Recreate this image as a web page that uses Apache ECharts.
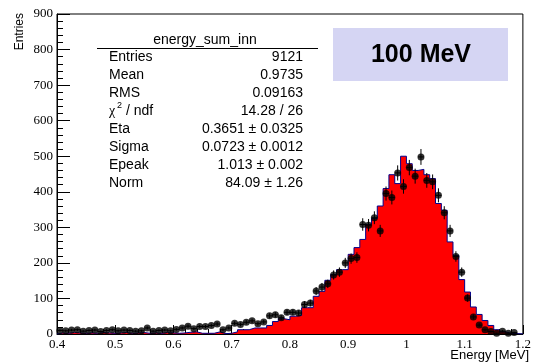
<!DOCTYPE html>
<html>
<head>
<meta charset="utf-8">
<script src="https://cdn.jsdelivr.net/npm/echarts@6/dist/echarts.min.js"></script>
<style>
  html, body { margin: 0; padding: 0; background: #fff; }
  #chart { width: 534px; height: 363px; }
</style>
</head>
<body>
<div id="chart"></div>
<script>
// Binning of the energy histogram: 80 bins of 0.01 MeV from 0.4 to 1.2
const binLow = 0.4;
const binWidth = 0.01;

// Reference (simulated) spectrum, drawn as red filled histogram
const simCounts = [
  3, 2, 4, 3, 2, 3, 2, 4, 3, 2, 3, 4, 2, 3, 4, 2, 3, 2, 4, 3,
  2, 3, 5, 6, 2, 2, 2, 6, 1, 2, 6, 12, 12, 17, 17, 17, 24, 35, 43, 40,
  50, 52, 74, 74, 106, 120, 151, 167, 181, 181, 224, 243, 266, 308,
  325, 360, 409, 448, 423, 500, 479, 460, 463, 448, 437, 367, 348, 259,
  221, 153, 118, 76, 55, 38, 24, 12, 6, 2, 1, 0
];

// Measured counts, drawn as points with Poisson error bars
const dataCounts = [
  10, 9, 11, 12, 8, 10, 11, 7, 10, 12, 9, 11, 10, 8, 9, 17, 8, 10, 11, 9,
  13, 17, 22, 15, 21, 21, 24, 28, 12, 17, 30, 27, 33, 37, 29, 34, 51, 54, 46, 61,
  61, 59, 83, 87, 121, 132, 141, 166, 174, 200, 212, 215, 308, 306,
  327, 290, 395, 384, 453, 415, 468, 444, 498, 432, 428, 390, 341, 290,
  218, 174, 101, 48, 25, 12, 7, 2, 8, 2, 4, 0
];

// Statistics box
const statsTitle = 'energy_sum_inn';
const statsNames = ['Entries', 'Mean', 'RMS', 'χ2 / ndf', 'Eta', 'Sigma', 'Epeak', 'Norm'];
const statsValues = ['9121', '0.9735', '0.09163', '14.28 / 26',
  '0.3651 ± 0.0325', '0.0723 ± 0.0012', '1.013 ± 0.002', '84.09 ± 1.26'];

const beamLabel = '100 MeV';
const xTitle = 'Energy [MeV]';
const yTitle = 'Entries';

// Histogram outline: each bin contributes its two edges at the bin height
const histLine = [[binLow, 0]];
simCounts.forEach((v, i) => {
  const lo = binLow + i * binWidth;
  histLine.push([lo, v], [lo + binWidth, v]);
});
histLine.push([binLow + simCounts.length * binWidth, 0]);

// Data points (empty bins are not drawn)
const points = [];
dataCounts.forEach((v, i) => {
  if (v > 0) points.push([binLow + (i + 0.5) * binWidth, v, Math.sqrt(v)]);
});

const chart = echarts.init(document.getElementById('chart'), null, { renderer: 'canvas' });

const sans = 'Liberation Sans, Arial, Helvetica, sans-serif';
const serif = 'Liberation Serif, Times New Roman, serif';

// Statistics box text elements
const statsGraphics = [];
statsGraphics.push({
  type: 'text', x: 205, y: 40,
  style: { text: statsTitle, font: '14px ' + sans, fill: '#000', align: 'center', verticalAlign: 'middle' }
});
statsGraphics.push({
  type: 'line', shape: { x1: 97, y1: 48.5, x2: 318, y2: 48.5 },
  style: { stroke: '#000', lineWidth: 1 }
});
statsNames.forEach((name, i) => {
  const y = 57 + i * 18;
  if (name.indexOf('χ2') === 0) {
    statsGraphics.push({ type: 'text', x: 109, y: y,
      style: { text: 'χ', font: '14px ' + serif, fill: '#000', align: 'left', verticalAlign: 'middle' } });
    statsGraphics.push({ type: 'text', x: 117, y: y - 5,
      style: { text: '2', font: '9px ' + sans, fill: '#000', align: 'left', verticalAlign: 'middle' } });
    statsGraphics.push({ type: 'text', x: 126, y: y,
      style: { text: '/ ndf', font: '14px ' + sans, fill: '#000', align: 'left', verticalAlign: 'middle' } });
  } else {
    statsGraphics.push({ type: 'text', x: 109, y: y,
      style: { text: name, font: '14px ' + sans, fill: '#000', align: 'left', verticalAlign: 'middle' } });
  }
  statsGraphics.push({ type: 'text', x: 303, y: y,
    style: { text: statsValues[i], font: '14px ' + sans, fill: '#000', align: 'right', verticalAlign: 'middle' } });
});

const option = {
  animation: false,
  backgroundColor: '#fff',
  grid: {
    left: 57, right: 6, top: 14, bottom: 29,
    show: true, borderColor: '#000', borderWidth: 1, backgroundColor: 'transparent'
  },
  xAxis: {
    type: 'value', min: 0.4, max: 1.2, interval: 0.1,
    axisLine: { show: true, lineStyle: { color: '#000', width: 1 } },
    axisTick: { show: true, inside: true, length: 9, lineStyle: { color: '#000' } },
    minorTick: { show: true, splitNumber: 5, length: 5, lineStyle: { color: '#000' } },
    splitLine: { show: false },
    axisLabel: {
      color: '#000', fontFamily: serif, fontSize: 13, margin: 4,
      formatter: v => String(+v.toFixed(1))
    }
  },
  yAxis: {
    type: 'value', min: 0, max: 900, interval: 100,
    axisLine: { show: true, lineStyle: { color: '#000', width: 1 } },
    axisTick: { show: true, inside: true, length: 13, lineStyle: { color: '#000' } },
    minorTick: { show: true, splitNumber: 5, length: 6, lineStyle: { color: '#000' } },
    splitLine: { show: false },
    axisLabel: { color: '#000', fontFamily: serif, fontSize: 13, margin: 4 }
  },
  series: [
    {
      type: 'line', data: histLine, symbol: 'none', z: 1,
      lineStyle: { color: '#00008b', width: 1 },
      areaStyle: { color: '#ff0000', opacity: 1 }
    },
    {
      type: 'custom', z: 2, clip: false,
      data: points,
      renderItem: (params, api) => {
        const x = api.value(0), y = api.value(1), e = api.value(2);
        const top = api.coord([x, y + e]);
        const bot = api.coord([x, y - e]);
        const left = api.coord([x - binWidth / 2, y]);
        const right = api.coord([x + binWidth / 2, y]);
        return {
          type: 'group',
          children: [
            { type: 'line', shape: { x1: top[0], y1: top[1], x2: bot[0], y2: bot[1] }, style: { stroke: '#000', lineWidth: 1 } },
            { type: 'line', shape: { x1: left[0], y1: left[1], x2: right[0], y2: right[1] }, style: { stroke: '#000', lineWidth: 1 } }
          ]
        };
      }
    },
    {
      type: 'scatter', z: 3, clip: false,
      data: points.map(p => [p[0], p[1]]),
      symbol: 'circle', symbolSize: 7,
      itemStyle: { color: '#000' }
    }
  ],
  graphic: [
    {
      type: 'text', x: 14, y: 13, rotation: Math.PI / 2,
      style: { text: yTitle, font: '12px ' + sans, fill: '#000', align: 'right', verticalAlign: 'top' }
    },
    {
      type: 'text', x: 529, y: 355,
      style: { text: xTitle, font: '13px ' + sans, fill: '#000', align: 'right', verticalAlign: 'middle' }
    },
    {
      type: 'rect', shape: { x: 333, y: 28, width: 175, height: 53 },
      style: { fill: '#d5d5f3' }
    },
    {
      type: 'text', x: 421, y: 55,
      style: { text: beamLabel, font: 'bold 25px ' + sans, fill: '#000', align: 'center', verticalAlign: 'middle' }
    }
  ].concat(statsGraphics)
};

chart.setOption(option);
</script>
</body>
</html>
